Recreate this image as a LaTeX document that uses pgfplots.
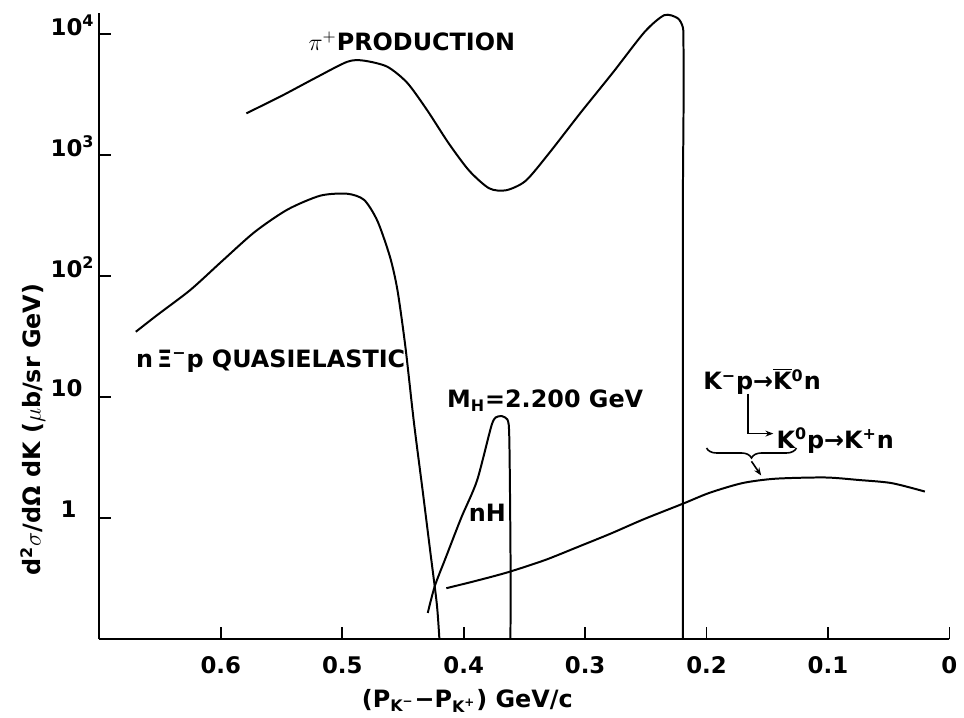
\documentclass[border=0pt]{standalone}
\usepackage{fontspec}
\setmainfont{DejaVu Sans}
\usepackage{pgfplots}
\pgfplotsset{compat=1.18}
\usetikzlibrary{decorations.pathreplacing,arrows.meta}
\pgfplotsset{curve/.style={black, line width=1pt, smooth, tension=0.45, mark=none}}

\begin{document}
\begin{tikzpicture}
\begin{axis}[
  scale only axis, width=427.5pt, height=315pt,
  xmin=0, xmax=0.7, x dir=reverse,
  ymode=log, ymin=0.1, ymax=14930,
  axis x line=bottom, axis y line=left,
  axis line style={-, line width=1pt},
  tick align=inside, major tick length=6pt,
  tick style={line width=0.9pt, black},
  xtick={0,0.1,0.2,0.3,0.4,0.5,0.6},
  xticklabels={0,0.1,0.2,0.3,0.4,0.5,0.6},
  ytick={1,10,100,1000,10000},
  yticklabels={\hspace*{5pt}1,10,10\textsuperscript{2},10\textsuperscript{3},10\textsuperscript{4}},
  yminorticks=false,
  ticklabel style={font=\bfseries\fontsize{11.5}{13}\selectfont},
  yticklabel style={anchor=east, text width=21pt, align=left, yshift=4.5pt},
  xticklabel style={yshift=-5pt},
  clip=false,
]
% pi+ production
\addplot[curve] coordinates {
(0.579,2210) (0.550,3080) (0.523,4290) (0.496,5890) (0.4825,6030)
(0.463,5370) (0.4465,3950) (0.430,2340) (0.4125,1256) (0.3955,743)
(0.379,531) (0.365,512) (0.349,612) (0.330,1026) (0.304,2220)
(0.277,4820) (0.251,10400) (0.2348,14300) (0.2238,13500) (0.2195,11300)
(0.219,8000) (0.219,2000) (0.2195,300) (0.2195,0.1)
};
% quasielastic
\addplot[curve] coordinates {
(0.670,34.7) (0.652,48) (0.625,77) (0.599,133) (0.572,232) (0.545,355)
(0.518,462) (0.496,479) (0.482,426) (0.471,285) (0.4606,143) (0.4545,76)
(0.448,26) (0.441,6.2) (0.434,1.75) (0.4272,0.50) (0.4221,0.194) (0.420,0.1)
};
% nH
\addplot[curve] coordinates {
(0.4296,0.165) (0.4238,0.275) (0.4148,0.472) (0.402,1.01) (0.389,2.05)
(0.3767,6.0) (0.3713,6.95) (0.3659,6.8) (0.3629,5.9) (0.3621,2.68)
(0.3614,0.40) (0.3615,0.1)
};
% K charge exchange
\addplot[curve] coordinates {
(0.4143,0.264) (0.387,0.309) (0.3627,0.36) (0.3328,0.452) (0.3058,0.58)
(0.2787,0.748) (0.2518,0.98) (0.2193,1.32) (0.1976,1.62) (0.1705,1.95)
(0.1433,2.12) (0.1024,2.17) (0.075,2.07) (0.0476,1.95) (0.0202,1.66)
};

\begin{scope}[every node/.style={font=\bfseries\fontsize{12}{14}\selectfont, inner sep=0pt}]
\node at (axis cs:0.4427,8730) {$\pi^{+}$PRODUCTION};
\node[anchor=west] at (axis cs:0.670,20) {n\,Ξ\textsuperscript{−}p QUASIELASTIC};
\node[anchor=west] at (axis cs:0.414,9.4) {M\textsubscript{H}=2.200 GeV};
\node at (axis cs:0.3806,1.1) {nH};
\node[anchor=west] at (axis cs:0.203,13.4) {K\textsuperscript{−}p→$\overline{\mbox{K}}$\textsuperscript{0}n};
\node[anchor=west] at (axis cs:0.1427,4.4) {K\textsuperscript{0}p→K\textsuperscript{+}n};
\node[xshift=-33.5pt, rotate=90] at (axis cs:0.7,5.4) {d\textsuperscript{2}$\sigma$/dΩ dK ($\mu$b/sr GeV)};
\node[yshift=-31pt] at (axis cs:0.397,0.1) {(P\textsubscript{K\textsuperscript{−}}−P\textsubscript{K\textsuperscript{+}}) GeV/c};
\end{scope}
\draw[line width=0.8pt, -{Stealth[length=4pt]}] (axis cs:0.166,10.7) -- (axis cs:0.166,5.0) -- (axis cs:0.145,5.0);
\draw[line width=0.8pt, decorate, decoration={brace, mirror, amplitude=5pt}] (axis cs:0.200,3.8) -- (axis cs:0.126,3.8);
\draw[line width=0.8pt, -{Stealth[length=4pt]}] (axis cs:0.163,2.95) -- (axis cs:0.155,2.25);
\end{axis}
\path (-50pt,-39.5pt) rectangle (432pt,321.5pt);
\end{tikzpicture}
\end{document}
